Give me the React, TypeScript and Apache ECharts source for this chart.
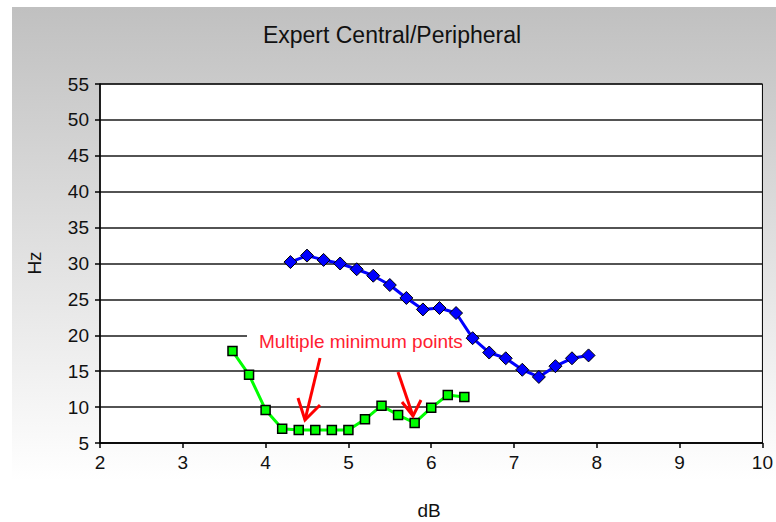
import React, { useEffect, useRef } from "react";
import * as echarts from "echarts";

const titleText = "Expert Central/Peripheral";
const xAxisName = "dB";
const yAxisName = "Hz";
const annotationText = "Multiple minimum points";

const blueX = [4.3, 4.5, 4.7, 4.9, 5.1, 5.3, 5.5, 5.7, 5.9, 6.1, 6.3, 6.5, 6.7, 6.9, 7.1, 7.3, 7.5, 7.7, 7.9];
const blueY = [30.2, 31.1, 30.5, 30.0, 29.2, 28.3, 27.0, 25.2, 23.6, 23.8, 23.1, 19.6, 17.6, 16.8, 15.2, 14.2, 15.7, 16.8, 17.2];

const greenX = [3.6, 3.8, 4.0, 4.2, 4.4, 4.6, 4.8, 5.0, 5.2, 5.4, 5.6, 5.8, 6.0, 6.2, 6.4];
const greenY = [17.8, 14.5, 9.6, 7.0, 6.8, 6.8, 6.8, 6.8, 8.3, 10.2, 8.9, 7.8, 9.9, 11.7, 11.4];

const FONT = "'Liberation Sans', Arial, sans-serif";

export default function App() {
  const ref = useRef<HTMLDivElement>(null);
  useEffect(() => {
    document.body.style.margin = "0";
    const chart = echarts.init(ref.current!, null, { renderer: "svg" });
    chart.setOption({
      animation: false,
      backgroundColor: "#ffffff",
      grid: {
        left: 100,
        right: 12,
        top: 84,
        bottom: 79,
        show: true,
        backgroundColor: "#ffffff",
        borderColor: "#000000",
        borderWidth: 1,
      },
      xAxis: {
        type: "value",
        min: 2,
        max: 10,
        interval: 1,
        axisLine: { show: true, onZero: false, lineStyle: { color: "#000", width: 1.5 } },
        axisTick: { show: true, length: 5, lineStyle: { color: "#000", width: 1.5 } },
        axisLabel: { color: "#111", fontSize: 19, fontFamily: FONT, margin: 10 },
        splitLine: { show: false },
      },
      yAxis: {
        type: "value",
        min: 5,
        max: 55,
        interval: 5,
        axisLine: { show: true, onZero: false, lineStyle: { color: "#000", width: 1.5 } },
        axisTick: { show: true, length: 5, lineStyle: { color: "#000", width: 1.5 } },
        axisLabel: { color: "#111", fontSize: 19, fontFamily: FONT, margin: 11 },
        splitLine: { show: true, lineStyle: { color: "#1a1a1a", width: 1.5 } },
      },
      graphic: [
        {
          type: "rect",
          z: -10,
          silent: true,
          shape: { x: 12, y: 7, width: 764, height: 515 },
          style: {
            fill: new echarts.graphic.LinearGradient(0, 0, 0, 1, [
              { offset: 0, color: "#c0c0c0" },
              { offset: 0.92, color: "#ffffff" },
              { offset: 1, color: "#ffffff" },
            ]),
          },
        },
        {
          type: "text",
          x: 392,
          y: 35,
          style: {
            text: titleText,
            fontSize: 23,
            fontFamily: FONT,
            fill: "#111",
            textAlign: "center",
            textVerticalAlign: "middle",
          },
        },
        {
          type: "text",
          x: 34,
          y: 263,
          rotation: Math.PI / 2,
          style: {
            text: yAxisName,
            fontSize: 19,
            fontFamily: FONT,
            fill: "#111",
            textAlign: "center",
            textVerticalAlign: "middle",
          },
        },
        {
          type: "text",
          x: 429,
          y: 510,
          style: {
            text: xAxisName,
            fontSize: 19,
            fontFamily: FONT,
            fill: "#111",
            textAlign: "center",
            textVerticalAlign: "middle",
          },
        },
        {
          type: "rect",
          z: 1,
          silent: true,
          shape: { x: 247, y: 326, width: 220, height: 28 },
          style: { fill: "#ffffff" },
        },
        {
          type: "text",
          z: 3,
          x: 259,
          y: 341,
          style: {
            text: annotationText,
            fontSize: 19,
            fontFamily: FONT,
            fill: "#ff2030",
            textAlign: "left",
            textVerticalAlign: "middle",
          },
        },
        {
          type: "polyline",
          z: 5,
          shape: { points: [[320, 358], [305, 420]] },
          style: { stroke: "#ff0000", lineWidth: 3 },
        },
        {
          type: "polyline",
          z: 5,
          shape: { points: [[298, 398], [305, 420], [320, 405]] },
          style: { stroke: "#ff0000", lineWidth: 3, fill: "none" },
        },
        {
          type: "polyline",
          z: 5,
          shape: { points: [[398, 372], [413, 416]] },
          style: { stroke: "#ff0000", lineWidth: 3 },
        },
        {
          type: "polyline",
          z: 5,
          shape: { points: [[402, 402], [413, 416], [421, 400]] },
          style: { stroke: "#ff0000", lineWidth: 3, fill: "none" },
        },
      ],
      series: [
        {
          type: "line",
          data: blueX.map((x, i) => [x, blueY[i]]),
          symbol: "diamond",
          symbolSize: [13, 13],
          lineStyle: { color: "#0000ff", width: 3 },
          itemStyle: { color: "#0000ff", borderColor: "#000", borderWidth: 1 },
        },
        {
          type: "line",
          data: greenX.map((x, i) => [x, greenY[i]]),
          symbol: "rect",
          symbolSize: [9, 9],
          lineStyle: { color: "#00ff00", width: 3 },
          itemStyle: { color: "#00ff00", borderColor: "#000", borderWidth: 1.5 },
        },
      ],
    });
    return () => chart.dispose();
  }, []);
  return <div ref={ref} style={{ width: 776, height: 522 }} />;
}
